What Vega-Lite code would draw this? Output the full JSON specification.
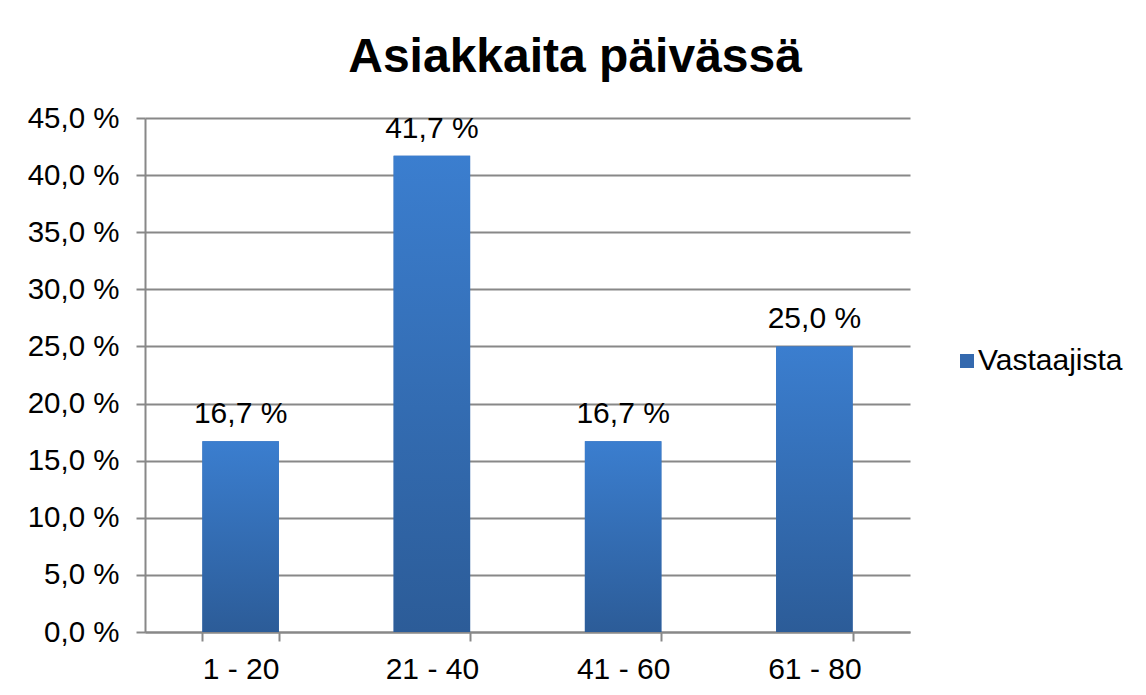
{
  "$schema": "https://vega.github.io/schema/vega-lite/v6.json",
  "width": 765,
  "height": 514,
  "autosize": {"type": "none"},
  "padding": {"left": 145, "top": 118, "right": 236, "bottom": 63},
  "background": "white",
  "title": {
    "text": "Asiakkaita päivässä",
    "font": "Liberation Sans",
    "fontSize": 48,
    "fontWeight": "bold",
    "color": "#000000",
    "anchor": "middle",
    "frame": "bounds",
    "baseline": "alphabetic",
    "offset": -17
  },
  "data": {
    "values": [
      {"ryhma": "1 - 20", "osuus": 16.7},
      {"ryhma": "21 - 40", "osuus": 41.7},
      {"ryhma": "41 - 60", "osuus": 16.7},
      {"ryhma": "61 - 80", "osuus": 25.0}
    ]
  },
  "encoding": {
    "x": {
      "field": "ryhma",
      "type": "nominal",
      "sort": null,
      "scale": {"paddingInner": 0.6, "paddingOuter": 0.3},
      "axis": {
        "title": null,
        "labelAngle": 0,
        "labelFont": "Liberation Sans",
        "labelFontSize": 30,
        "labelColor": "#000000",
        "labelPadding": 13,
        "tickBand": "extent",
        "tickSize": 9,
        "tickColor": "#888888",
        "tickWidth": 2,
        "domainColor": "#888888",
        "domainWidth": 2,
        "grid": false
      }
    },
    "y": {
      "field": "osuus",
      "type": "quantitative",
      "scale": {"domain": [0, 45], "nice": false},
      "axis": {
        "title": null,
        "values": [0, 5, 10, 15, 20, 25, 30, 35, 40, 45],
        "labelExpr": "replace(format(datum.value, '.1f'), '.', ',') + ' %'",
        "labelFont": "Liberation Sans",
        "labelFontSize": 29.5,
        "labelColor": "#000000",
        "labelPadding": 17,
        "tickSize": 9,
        "tickColor": "#888888",
        "tickWidth": 2,
        "domainColor": "#888888",
        "domainWidth": 2,
        "grid": true,
        "gridColor": "#888888",
        "gridWidth": 2
      }
    }
  },
  "layer": [
    {
      "mark": {"type": "bar"},
      "encoding": {
        "color": {
          "datum": "Vastaajista",
          "scale": {"range": ["#3469ae"]},
          "legend": {
            "title": null,
            "orient": "none",
            "legendX": 807,
            "legendY": 228,
            "padding": 0,
            "labelFont": "Liberation Sans",
            "labelFontSize": 30,
            "labelColor": "#000000",
            "labelOffset": -4,
            "symbolType": "square",
            "symbolSize": 196,
            "symbolStrokeWidth": 0,
            "symbolOffset": 0
          }
        }
      }
    },
    {
      "mark": {
        "type": "bar",
        "fill": {
          "gradient": "linear",
          "x1": 0, "y1": 0, "x2": 0, "y2": 1,
          "stops": [
            {"offset": 0, "color": "#3b7ecf"},
            {"offset": 1, "color": "#2c5c98"}
          ]
        }
      }
    },
    {
      "transform": [
        {"calculate": "replace(format(datum.osuus, '.1f'), '.', ',') + ' %'", "as": "nimio"}
      ],
      "mark": {
        "type": "text",
        "font": "Liberation Sans",
        "fontSize": 30,
        "color": "#000000",
        "baseline": "alphabetic",
        "dy": -18
      },
      "encoding": {"text": {"field": "nimio"}}
    }
  ],
  "config": {"view": {"stroke": null}}
}
